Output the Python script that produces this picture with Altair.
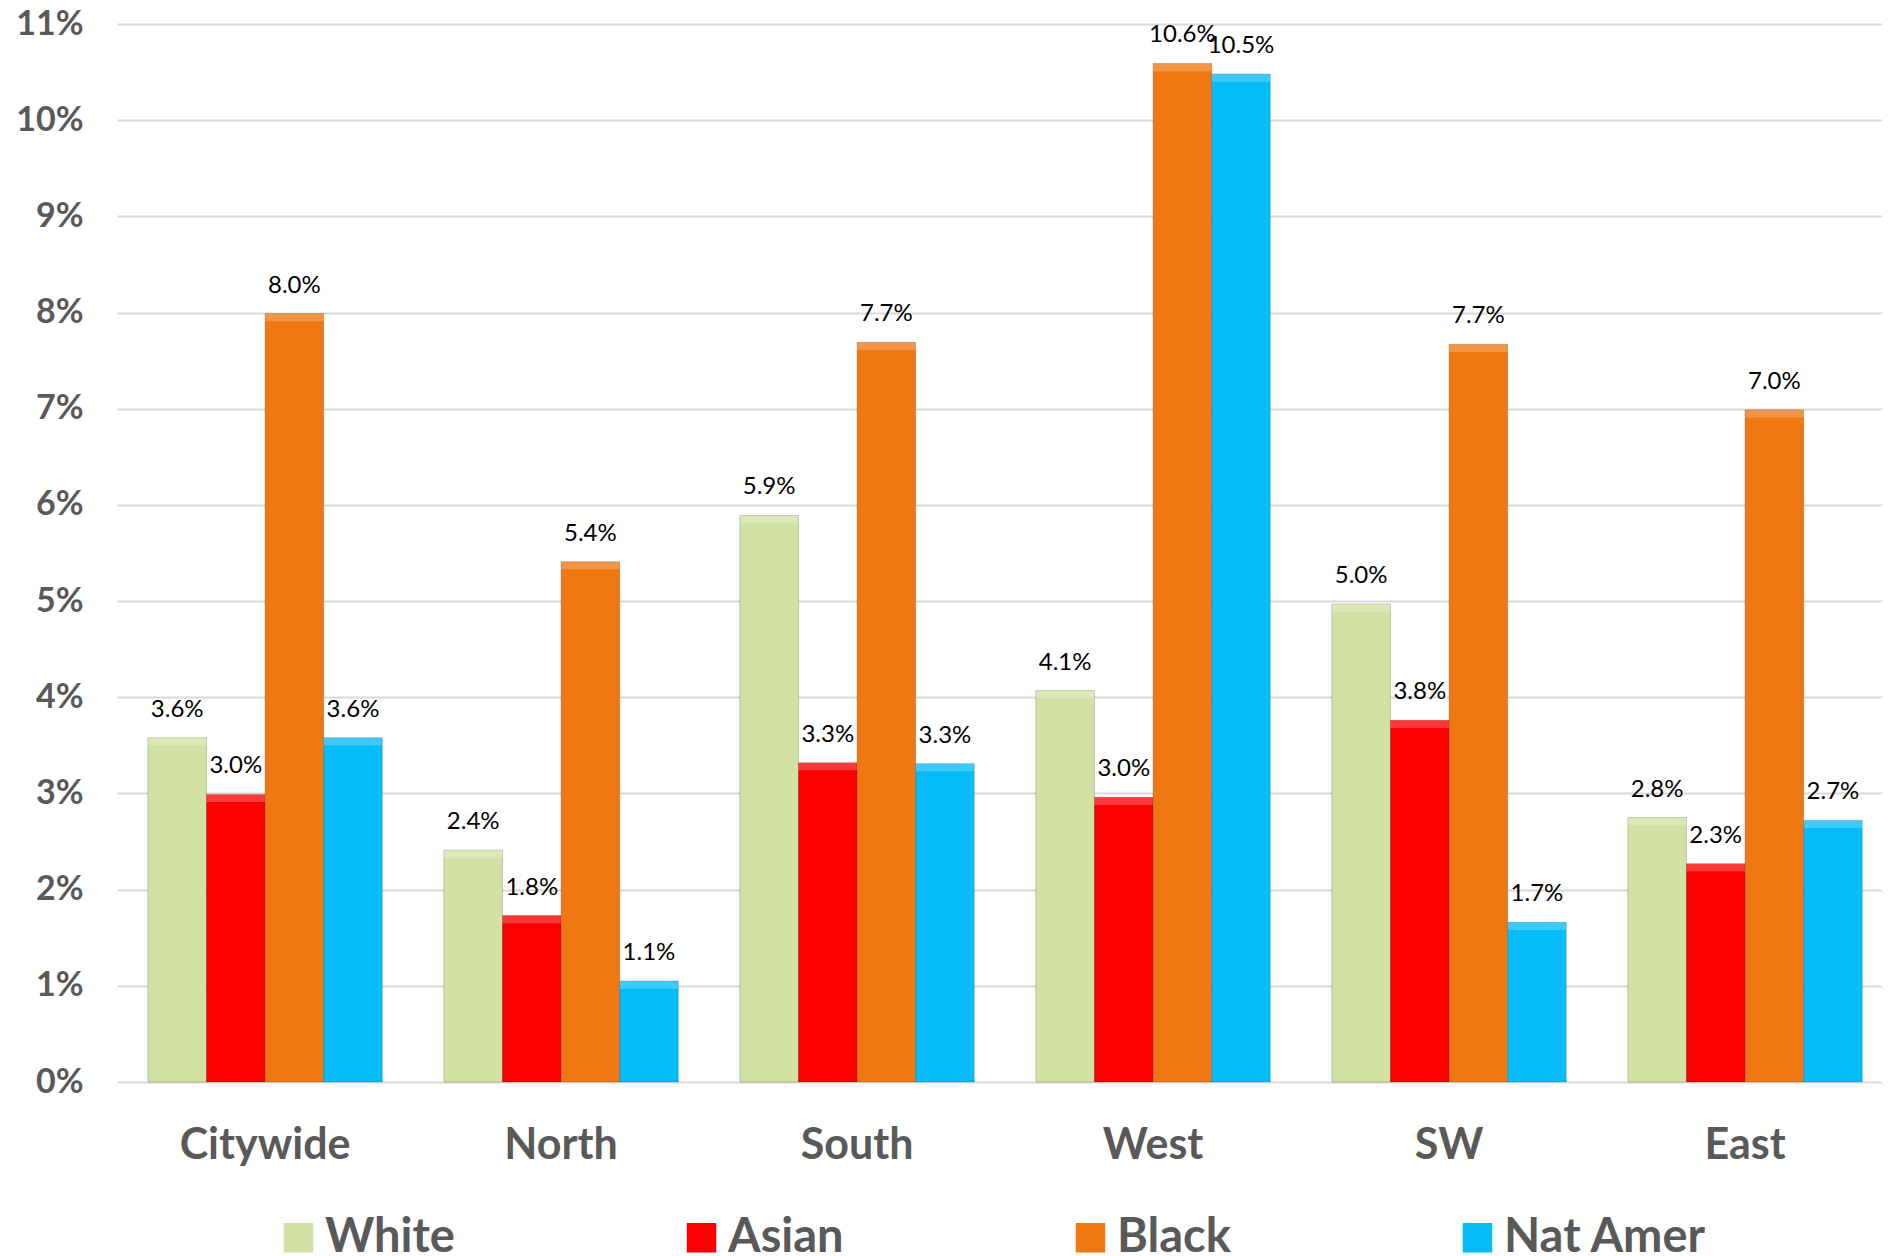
import altair as alt
import pandas as pd

regions = ["Citywide", "North", "South", "West", "SW", "East"]
groups = ["White", "Asian", "Black", "Nat Amer"]

# percent values (bar heights)
white = [3.58, 2.41, 5.89, 4.07, 4.97, 2.75]
asian = [2.99, 1.73, 3.32, 2.96, 3.76, 2.27]
black = [7.99, 5.41, 7.69, 10.59, 7.67, 6.99]
natamer = [3.58, 1.05, 3.31, 10.48, 1.66, 2.72]

# printed data labels
white_lbl = ["3.6%", "2.4%", "5.9%", "4.1%", "5.0%", "2.8%"]
asian_lbl = ["3.0%", "1.8%", "3.3%", "3.0%", "3.8%", "2.3%"]
black_lbl = ["8.0%", "5.4%", "7.7%", "10.6%", "7.7%", "7.0%"]
natamer_lbl = ["3.6%", "1.1%", "3.3%", "10.5%", "1.7%", "2.7%"]

y_ticks = [0, 1, 2, 3, 4, 5, 6, 7, 8, 9, 10, 11]
colors = ["#D2E2A5", "#FC0000", "#F07813", "#05BCF8"]

series = [white, asian, black, natamer]
labels = [white_lbl, asian_lbl, black_lbl, natamer_lbl]
rows = []
for g, vals, lbls in zip(groups, series, labels):
    for r, v, l in zip(regions, vals, lbls):
        rows.append({"region": r, "group": g, "value": v / 100.0, "label": l})
df = pd.DataFrame(rows)

FONT = "Lato"
GRAY = "#595959"

x = alt.X(
    "region:N",
    sort=regions,
    scale=alt.Scale(paddingInner=0.208, paddingOuter=0.0855, align=0.61),
    axis=alt.Axis(
        title=None, labelAngle=0, labelFont=FONT, labelFontSize=43,
        labelFontWeight="bold", labelColor=GRAY, labelPadding=42,
        ticks=False, tickSize=0, domain=False, grid=False,
    ),
)
y = alt.Y(
    "value:Q",
    scale=alt.Scale(domain=[0, 0.11], nice=False, zero=True),
    axis=alt.Axis(
        title=None, format=".0%", values=[t / 100.0 for t in y_ticks],
        labelFont=FONT, labelFontSize=34, labelFontWeight="bold",
        labelColor=GRAY, labelPadding=34, ticks=False, tickSize=0,
        domain=False, grid=True, gridColor="#D9D9D9", gridWidth=2,
    ),
)
xo = alt.XOffset("group:N", sort=groups, scale=alt.Scale(paddingInner=0, paddingOuter=0))

color = alt.Color(
    "group:N",
    sort=groups,
    scale=alt.Scale(domain=groups, range=colors),
    legend=alt.Legend(
        title=None, orient="none", legendX=158, legendY=1190,
        direction="horizontal", columns=4, symbolType="square",
        symbolSize=870, symbolStrokeWidth=0, labelFont=FONT,
        labelFontSize=47, labelFontWeight="bold", labelColor=GRAY,
        labelOffset=3, labelLimit=400, columnPadding=223, padding=0,
    ),
)

base = alt.Chart(df)
bars = base.mark_bar(stroke="black", strokeOpacity=0.18, strokeWidth=1).encode(
    x=x, xOffset=xo, y=y, color=color
)
# light bevel strip on the top of every bar
bevel = base.transform_calculate(bevel_low="datum.value - 0.0008").mark_bar(
    color="white", opacity=0.22
).encode(x=x, xOffset=xo, y=alt.Y("value:Q"), y2="bevel_low:Q")
text = base.mark_text(
    baseline="bottom", dy=-16, font=FONT, fontSize=24, color="black"
).encode(x=x, xOffset=xo, y=y, text="label:N")

chart = (
    alt.layer(bars, bevel, text)
    .properties(
        width=1765, height=1058,
        padding={"left": 109, "top": 16, "right": 0, "bottom": 185},
        autosize="none",
    )
    .configure_view(strokeWidth=0)
)

chart.save("out.html", embed_options={"renderer": "svg", "actions": False})
